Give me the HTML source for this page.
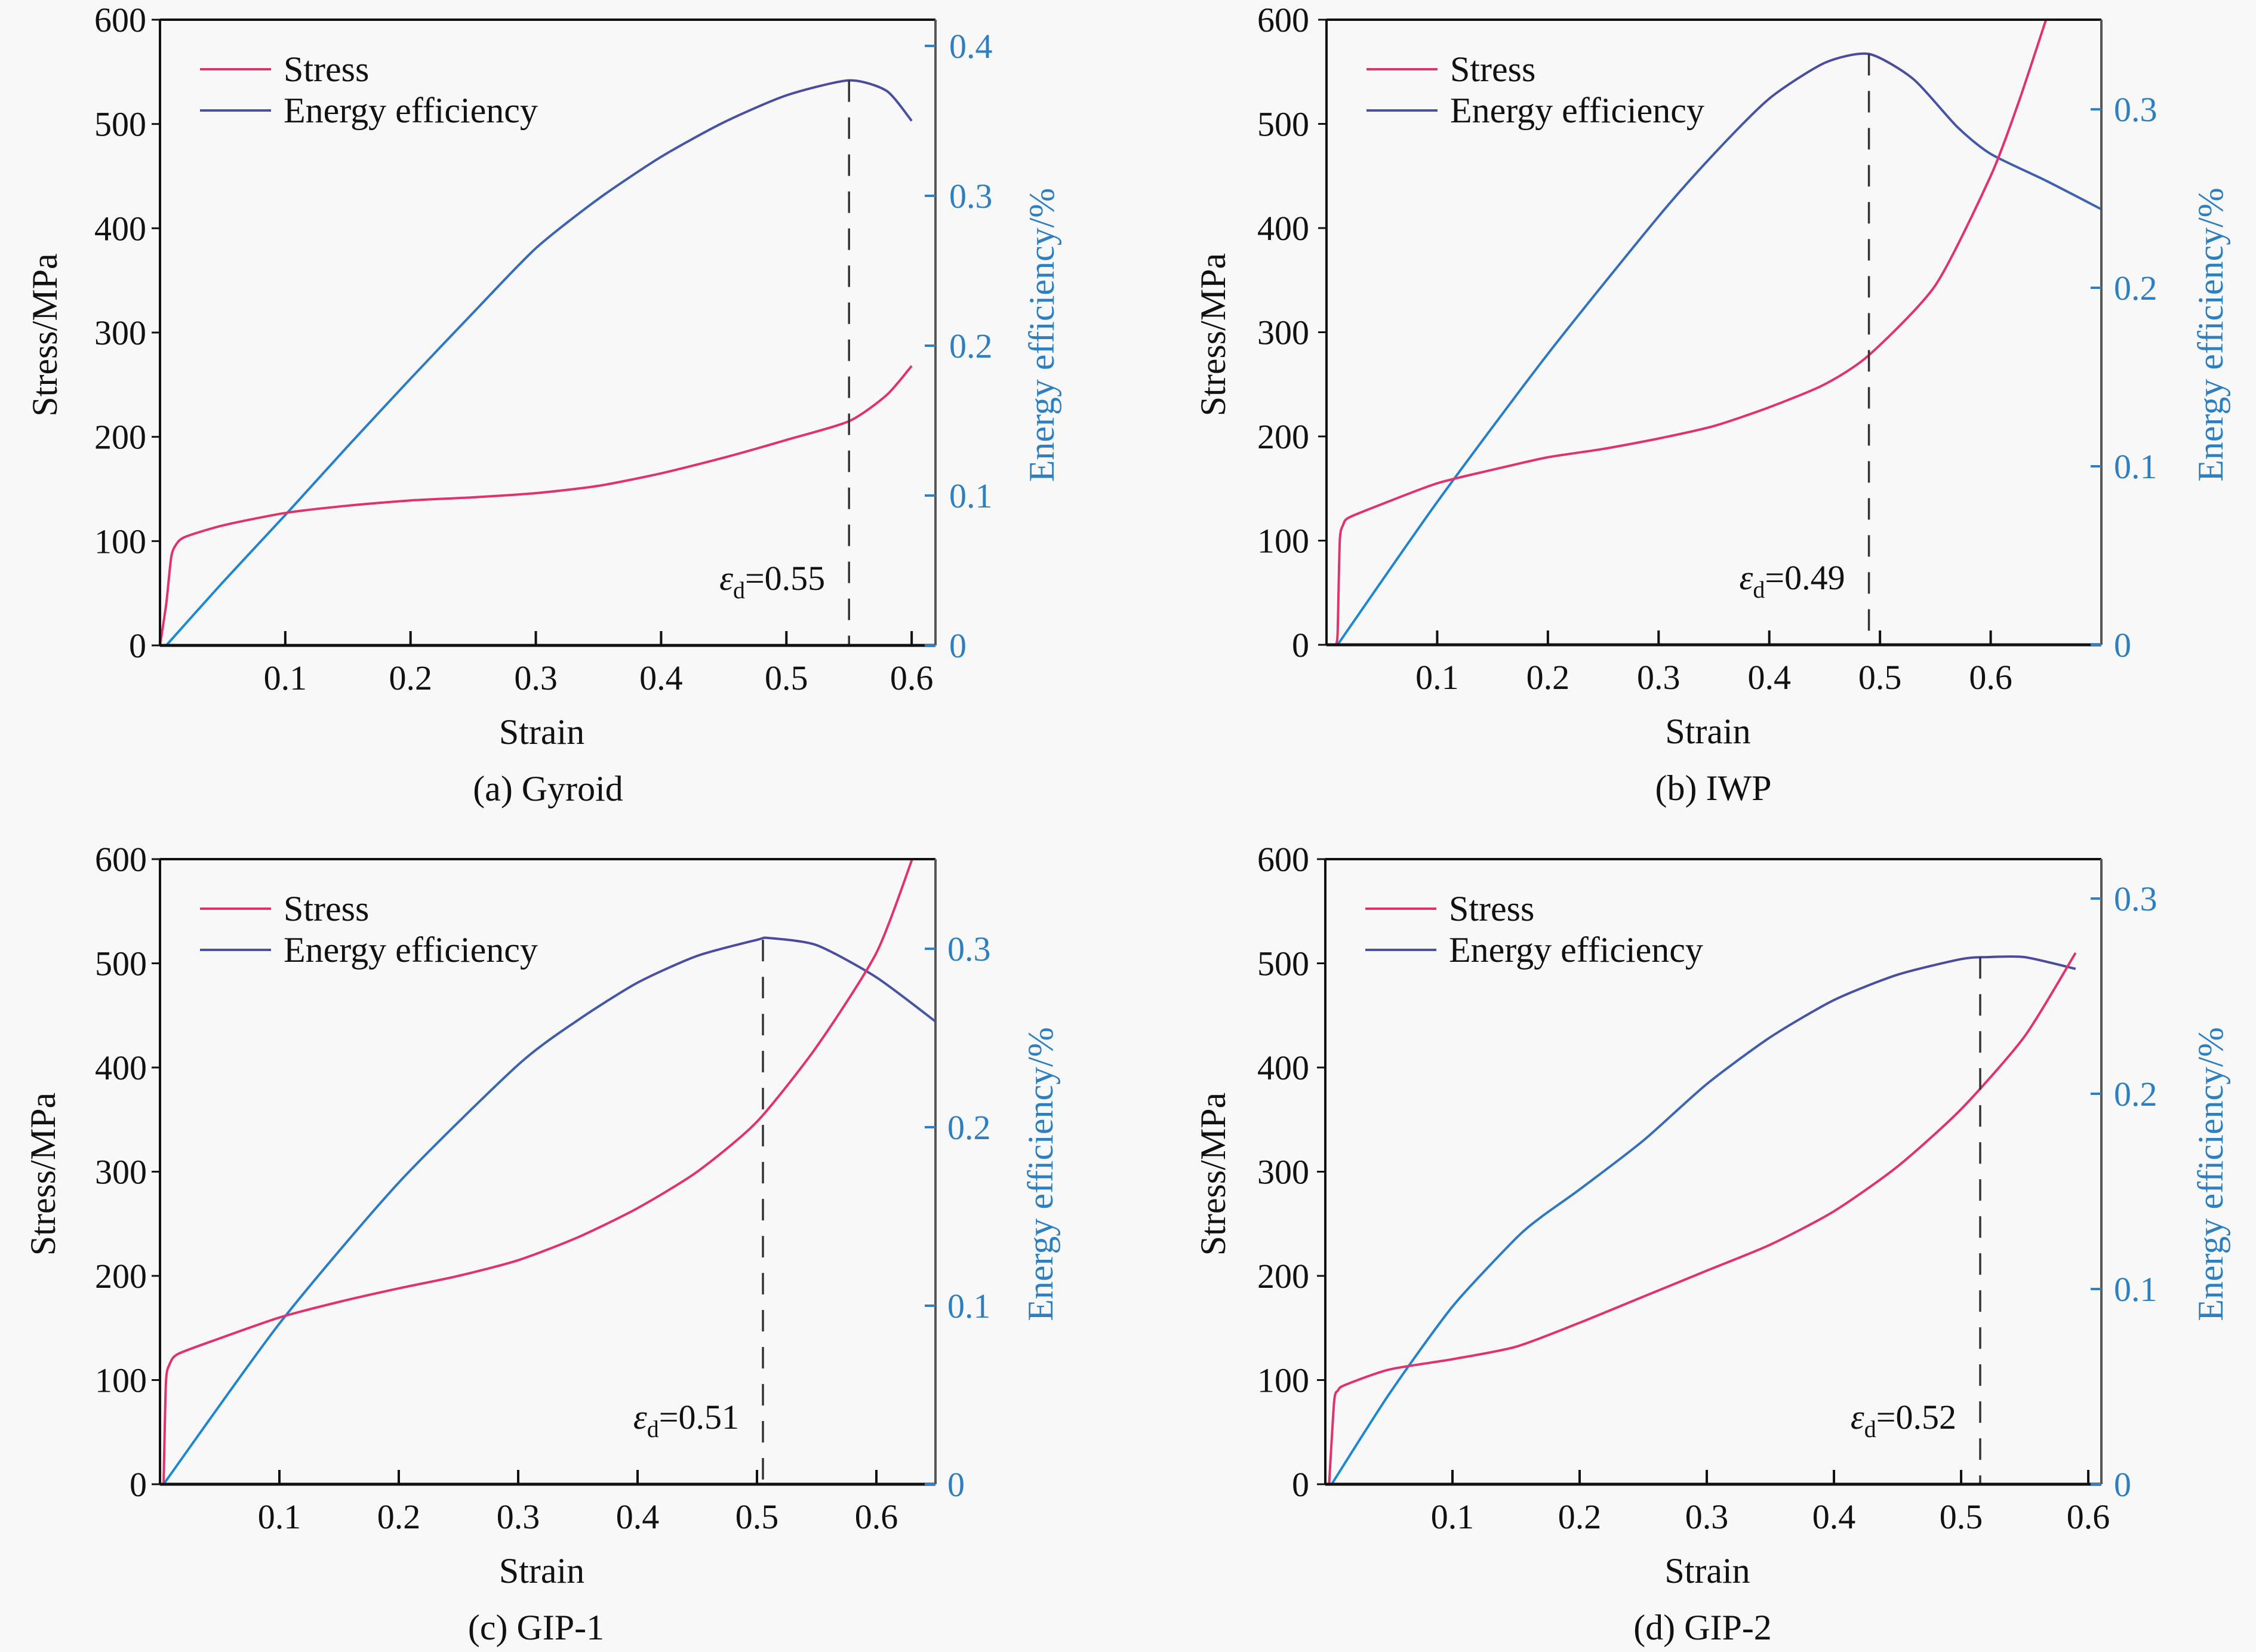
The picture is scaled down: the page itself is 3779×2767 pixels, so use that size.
<!DOCTYPE html>
<html><head><meta charset="utf-8"><style>
html,body{margin:0;padding:0;background:#f8f8f8;}
svg{display:block;}
svg text{font-family:"Liberation Serif","Times New Roman",serif;}
</style></head><body>
<svg id="fig" width="3779" height="2767" viewBox="0 0 3779 2767" font-family="Liberation Serif, serif" xmlns="http://www.w3.org/2000/svg">
<defs>
<linearGradient id="eg" gradientUnits="objectBoundingBox" x1="0" y1="1" x2="0" y2="0">
<stop offset="0" stop-color="#1a8ad4"/><stop offset="0.55" stop-color="#2f78bf"/><stop offset="1" stop-color="#4c4a9c"/>
</linearGradient>
</defs>
</svg>
<script>
// ---- data ----
const strainA=[0,0.005,0.009,0.013,0.02,0.05,0.1,0.15,0.2,0.25,0.3,0.35,0.4,0.45,0.5,0.55,0.58,0.6];
const stressA=[0,40,85,97,104,115,127,134,139,142,146,153,165,180,197,215,240,268];
const effStrainA=[0.005,0.05,0.1,0.15,0.2,0.25,0.3,0.35,0.4,0.45,0.5,0.55,0.58,0.6];
const effA=[0,0.042,0.087,0.133,0.178,0.222,0.265,0.298,0.326,0.349,0.367,0.377,0.37,0.35];

const strainB=[0.008,0.01,0.012,0.015,0.02,0.05,0.1,0.15,0.2,0.25,0.3,0.35,0.4,0.45,0.49,0.55,0.6,0.625,0.65];
const stressB=[0,10,100,115,122,135,155,168,180,188,198,210,228,250,278,345,450,520,600];
const effStrainB=[0.01,0.1,0.2,0.3,0.35,0.4,0.45,0.49,0.53,0.57,0.6,0.65,0.7];
const effB=[0,0.08,0.163,0.24,0.275,0.306,0.326,0.331,0.317,0.29,0.275,0.26,0.244];

const strainC=[0.003,0.005,0.008,0.015,0.05,0.1,0.15,0.2,0.25,0.3,0.35,0.4,0.45,0.5,0.55,0.6,0.63];
const stressC=[0,98,115,125,140,160,175,188,200,215,237,265,300,348,420,510,600];
const effStrainC=[0.003,0.1,0.2,0.3,0.35,0.4,0.45,0.5,0.51,0.55,0.6,0.65];
const effC=[0,0.09,0.169,0.235,0.26,0.281,0.296,0.305,0.306,0.302,0.284,0.259];

const strainD=[0.003,0.007,0.01,0.015,0.05,0.1,0.15,0.2,0.25,0.3,0.35,0.4,0.45,0.5,0.55,0.59];
const stressD=[0,80,90,95,110,120,132,155,180,205,230,262,305,360,430,510];
const effStrainD=[0.005,0.05,0.1,0.15,0.17,0.2,0.25,0.3,0.35,0.4,0.45,0.5,0.52,0.55,0.59];
const effD=[0,0.046,0.091,0.126,0.137,0.151,0.176,0.205,0.229,0.248,0.261,0.269,0.27,0.27,0.264];

const xTicks=[0.1,0.2,0.3,0.4,0.5,0.6];
const yTicks=[0,100,200,300,400,500,600];
const y2TicksA=[0,0.1,0.2,0.3,0.4];
const y2TicksB=[0,0.1,0.2,0.3];
const epsA=0.55, epsB=0.49, epsC=0.505, epsD=0.515;
const captions=["(a) Gyroid","(b) IWP","(c) GIP-1","(d) GIP-2"];
const epsLabels=["0.55","0.49","0.51","0.52"];

const NS="http://www.w3.org/2000/svg";
const svg=document.getElementById('fig');
function el(tag,attrs,parent){const e=document.createElementNS(NS,tag);for(const k in attrs)e.setAttribute(k,attrs[k]);(parent||svg).appendChild(e);return e;}
function smooth(pts){
 let d='M'+pts[0][0]+','+pts[0][1];
 for(let i=0;i<pts.length-1;i++){
  const p0=pts[i-1]||pts[i],p1=pts[i],p2=pts[i+1],p3=pts[i+2]||p2;
  const t=0.35/3;
  d+=' C'+(p1[0]+(p2[0]-p0[0])*t)+','+(p1[1]+(p2[1]-p0[1])*t)+' '+(p2[0]-(p3[0]-p1[0])*t)+','+(p2[1]-(p3[1]-p1[1])*t)+' '+p2[0]+','+p2[1];
 }
 return d;
}
const FF='Liberation Serif, Times New Roman, serif';

const panels=[
 {L:268,R:1567,T:33,B:1081,xmax:0.619,y2max:0.4175,s:strainA,v:stressA,es:effStrainA,e:effA,y2t:y2TicksA,eps:epsA,lab:epsLabels[0],cap:captions[0],capx:918,ytx:75,y2tx:1745,ltx:245,rtx:1590},
 {L:2222,R:3520,T:33,B:1080,xmax:0.7,y2max:0.3502,s:strainB,v:stressB,es:effStrainB,e:effB,y2t:y2TicksB,eps:epsB,lab:epsLabels[1],cap:captions[1],capx:2870,ytx:2032,y2tx:3703,ltx:2193,rtx:3541},
 {L:268,R:1567,T:1439,B:2486,xmax:0.6495,y2max:0.3502,s:strainC,v:stressC,es:effStrainC,e:effC,y2t:y2TicksB,eps:epsC,lab:epsLabels[2],cap:captions[2],capx:898,ytx:72,y2tx:1743,ltx:246,rtx:1587},
 {L:2220,R:3520,T:1439,B:2486,xmax:0.6103,y2max:0.3202,s:strainD,v:stressD,es:effStrainD,e:effD,y2t:y2TicksB,eps:epsD,lab:epsLabels[3],cap:captions[3],capx:2852,ytx:2032,y2tx:3703,ltx:2193,rtx:3541}
];

panels.forEach((p,i)=>{
 const g=el('g',{'font-family':FF});
 
 
 const X=x=>p.L+(x/p.xmax)*(p.R-p.L);
 const Y=v=>p.B-(v/600)*(p.B-p.T);
 const Y2=v=>p.B-(v/p.y2max)*(p.B-p.T);
 const ep=el('path',{d:smooth(p.es.map((x,k)=>[X(x),Y2(p.e[k])])),fill:'none',stroke:'url(#eg)','stroke-width':4,'stroke-linejoin':'round'},g);
 
 
 const sp=el('path',{d:smooth(p.s.map((x,k)=>[X(x),Y(p.v[k])])),fill:'none',stroke:'#e0336b','stroke-width':4,'stroke-linejoin':'round'},g);
 
 
 let peak=0;p.es.forEach((x,k)=>{if(Math.abs(x-p.eps)<Math.abs(p.es[peak]-p.eps))peak=k;});
 const dl=el('line',{x1:X(p.eps),x2:X(p.eps),y1:Y2(p.e[peak]),y2:p.B,stroke:'#333','stroke-width':3.5,'stroke-dasharray':'36,26'},g);
 
 
 const at=el('text',{x:X(p.eps)-40,y:p.B-93,'text-anchor':'end','font-size':58,fill:'#111','font-family':FF},g);
 
 
 at.innerHTML='<tspan font-style="italic">ε</tspan><tspan font-size="40" dy="14">d</tspan><tspan dy="-14">='+p.lab+'</tspan>';
 el('line',{x1:p.L,x2:p.R,y1:p.T,y2:p.T,stroke:'#111','stroke-width':4},g);
 el('line',{x1:p.L,x2:p.L,y1:p.T,y2:p.B,stroke:'#111','stroke-width':4},g);
 el('line',{x1:p.L,x2:p.R,y1:p.B,y2:p.B,stroke:'#111','stroke-width':5},g);
 el('line',{x1:p.R,x2:p.R,y1:p.T,y2:p.B,stroke:'#555','stroke-width':4},g);
 xTicks.forEach(t=>{
  if(t>p.xmax)return;
  el('line',{x1:X(t),x2:X(t),y1:p.B,y2:p.B-24,stroke:'#111','stroke-width':4},g);
  const tx=el('text',{x:X(t),y:p.B+74,'text-anchor':'middle','font-size':58,fill:'#111','font-family':FF},g);
  
  
  tx.textContent=String(t);
 });
 yTicks.forEach(t=>{
  el('line',{x1:p.L-14,x2:p.L,y1:Y(t),y2:Y(t),stroke:'#111','stroke-width':3},g);
  const tx=el('text',{x:p.ltx,y:Y(t)+20,'text-anchor':'end','font-size':58,fill:'#111','font-family':FF},g);
  
  
  tx.textContent=String(t);
 });
 p.y2t.forEach(t=>{
  el('line',{x1:p.R-18,x2:p.R,y1:Y2(t),y2:Y2(t),stroke:'#2e80c4','stroke-width':4},g);
  const tx=el('text',{x:p.rtx,y:Y2(t)+20,'font-size':58,fill:'#2e7fc0','font-family':FF},g);
  
  
  tx.textContent=String(t);
 });
 const cy=(p.T+p.B)/2+4;
 const yt=el('text',{x:p.ytx,y:cy,'text-anchor':'middle','font-size':60,fill:'#111','font-family':FF,transform:'rotate(-90 '+p.ytx+' '+cy+') translate(0 20)'},g);
 
 
 yt.textContent='Stress/MPa';
 const y2=el('text',{x:p.y2tx,y:cy,'text-anchor':'middle','font-size':60,fill:'#2e7fc0','font-family':FF,transform:'rotate(-90 '+p.y2tx+' '+cy+') translate(0 20)'},g);
 
 
 y2.textContent='Energy efficiency/%';
 const xt=el('text',{x:(p.L+p.R)/2-10,y:p.B+165,'text-anchor':'middle','font-size':60,fill:'#111','font-family':FF},g);
 
 
 xt.textContent='Strain';
 const cp=el('text',{x:p.capx,y:p.B+260,'text-anchor':'middle','font-size':60,fill:'#111','font-family':FF},g);
 
 
 cp.textContent=p.cap;
 const lx=p.L+67, ly=p.T+83;
 el('line',{x1:lx,x2:lx+119,y1:ly,y2:ly,stroke:'#e0336b','stroke-width':4},g);
 el('line',{x1:lx,x2:lx+119,y1:ly+69,y2:ly+69,stroke:'#4a4f9e','stroke-width':4},g);
 const l1=el('text',{x:lx+140,y:ly+20,'font-size':60,fill:'#111','font-family':FF},g);
 
 
 l1.textContent='Stress';
 const l2=el('text',{x:lx+140,y:ly+89,'font-size':60,fill:'#111','font-family':FF},g);
 
 
 l2.textContent='Energy efficiency';
});
</script>
</body></html>
